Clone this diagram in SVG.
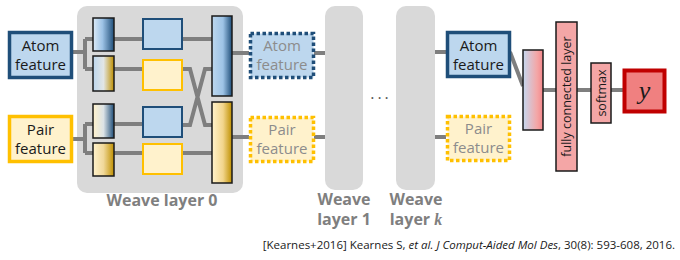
<svg xmlns="http://www.w3.org/2000/svg" width="680" height="260" viewBox="0 0 680 260">
<defs>
<linearGradient id="gBB" x1="0" x2="1" y1="0" y2="0"><stop offset="0" stop-color="#DDEBF7"/><stop offset="0.45" stop-color="#9DC3E6"/><stop offset="1" stop-color="#1F4E79"/></linearGradient>
<linearGradient id="gBY" x1="0" x2="1" y1="0" y2="0"><stop offset="0" stop-color="#BDD7EE"/><stop offset="0.5" stop-color="#E2E6E6"/><stop offset="1" stop-color="#BF9000"/></linearGradient>
<linearGradient id="gYB" x1="0" x2="1" y1="0" y2="0"><stop offset="0" stop-color="#FFF2CC"/><stop offset="0.5" stop-color="#DCE3E6"/><stop offset="1" stop-color="#1F4E79"/></linearGradient>
<linearGradient id="gYY" x1="0" x2="1" y1="0" y2="0"><stop offset="0" stop-color="#FFF2CC"/><stop offset="0.5" stop-color="#F0D89A"/><stop offset="1" stop-color="#BF9000"/></linearGradient>
<linearGradient id="gTB" x1="0" x2="1" y1="0" y2="0"><stop offset="0" stop-color="#BDD7EE"/><stop offset="0.55" stop-color="#9DC3E6"/><stop offset="1" stop-color="#1F4E79"/></linearGradient>
<linearGradient id="gTY" x1="0" x2="1" y1="0" y2="0"><stop offset="0" stop-color="#FFF2CC"/><stop offset="0.55" stop-color="#F2D58C"/><stop offset="1" stop-color="#BF9000"/></linearGradient>
<linearGradient id="gBR" x1="0" x2="1" y1="0" y2="0"><stop offset="0" stop-color="#C5D9F1"/><stop offset="0.7" stop-color="#F4A6A6"/><stop offset="1" stop-color="#F4868A"/></linearGradient>
</defs>
<style>
.lane{fill:#D9D9D9}
.ln{stroke:#7F7F7F;stroke-width:4;fill:none}
.bar{stroke:#1A1A1A;stroke-width:1.5}
.atom{fill:#BDD7EE;stroke:#1F4E79;stroke-width:3.5}
.pair{fill:#FFF2CC;stroke:#FFC000;stroke-width:3.5}
.ab{fill:#BDD7EE;stroke:#1F4E79;stroke-width:2}
.pb{fill:#FFF2CC;stroke:#FFC000;stroke-width:2}
.datom{fill:#BDD7EE;stroke:#1F4E79;stroke-width:3.5;stroke-dasharray:3.5 2.5}
.dpair{fill:#FFF2CC;stroke:#FFC000;stroke-width:3.5;stroke-dasharray:3.5 2.5}
.t{font-family:"Open Sans","Noto Sans",sans-serif;font-size:15px;text-anchor:middle;fill:#1A1A1A}
.tg{fill:#8C8C8C}
.lab{font-family:"Open Sans","Noto Sans",sans-serif;font-size:16px;font-weight:bold;text-anchor:middle;fill:#7F7F7F}
.red{fill:#F4A6A6;stroke:#1A1A1A;stroke-width:1.5}
.rt{font-family:"Open Sans","Noto Sans",sans-serif;font-size:12.5px;text-anchor:middle;fill:#1A1A1A}
</style>

<g id="lanes">
<rect class="lane" x="77" y="6" width="166" height="187" rx="10"/>
<rect class="lane" x="325" y="6" width="38" height="184" rx="10"/>
<rect class="lane" x="396" y="6" width="39" height="184" rx="10"/>
</g>

<g id="connectors">
<path class="ln" d="M72 52 H85 M85 39 V69 M85 39 H212 M85 69 H143"/>
<path class="ln" d="M72 139 H85 M85 124 V153 M85 124 H143 M85 153 H212"/>
<path class="ln" d="M182 69 H190 L205 125 H212 M182 125 H190 L205 69 H212"/>
<path class="ln" d="M232 53 H249 M314 53 H325 M435 52 H446"/>
<path class="ln" d="M232 137 H249 M314 137 H325 M435 137 H446"/>
<path class="ln" d="M510 52 L523 86 M543 90 H623"/>
</g>

<g id="atom-in"><rect class="atom" x="9.5" y="32.5" width="62" height="45"/><text class="t" x="40.5" y="51">Atom</text><text class="t" x="40.5" y="70">feature</text></g>
<g id="pair-in"><rect class="pair" x="9.5" y="116.5" width="62" height="45"/><text class="t" x="40.5" y="135">Pair</text><text class="t" x="40.5" y="154">feature</text></g>

<g id="weave0">
<rect class="bar" x="93" y="18" width="21" height="33" fill="url(#gBB)"/>
<rect class="bar" x="93" y="56" width="21" height="35" fill="url(#gBY)"/>
<rect class="bar" x="93" y="104" width="21" height="34" fill="url(#gYB)"/>
<rect class="bar" x="93" y="143" width="21" height="33" fill="url(#gYY)"/>
<rect class="ab" x="143" y="19" width="39" height="30"/>
<rect class="pb" x="143" y="60" width="39" height="30"/>
<rect class="ab" x="143" y="107" width="39" height="30"/>
<rect class="pb" x="143" y="144" width="39" height="30"/>
<rect class="bar" x="212" y="16" width="20" height="80" fill="url(#gTB)"/>
<rect class="bar" x="212" y="102" width="20" height="81" fill="url(#gTY)"/>
<text class="lab" x="162" y="206">Weave layer 0</text>
</g>

<g id="atom-mid"><rect class="datom" x="250.5" y="33.5" width="63" height="44"/><text class="t tg" x="282" y="51">Atom</text><text class="t tg" x="282" y="70">feature</text></g>
<g id="pair-mid"><rect class="dpair" x="250.5" y="117.5" width="63" height="44"/><text class="t tg" x="282" y="135">Pair</text><text class="t tg" x="282" y="154">feature</text></g>

<g id="weave1"><text class="lab" x="344" y="205">Weave</text><text class="lab" x="344" y="225">layer 1</text></g>
<g id="dots"><text x="381" y="104" font-family="'Open Sans',sans-serif" font-size="16" text-anchor="middle" fill="#595959" letter-spacing="3">···</text></g>
<g id="weavek"><text class="lab" x="416" y="205">Weave</text><text class="lab" x="416" y="225">layer <tspan font-family="'Liberation Serif',serif" font-style="italic">k</tspan></text></g>

<g id="atom-out"><rect class="atom" x="447.5" y="32.5" width="62" height="44"/><text class="t" x="478.5" y="51">Atom</text><text class="t" x="478.5" y="70">feature</text></g>
<g id="pair-out"><rect class="dpair" x="447.5" y="116.5" width="62" height="44"/><text class="t tg" x="478.5" y="134">Pair</text><text class="t tg" x="478.5" y="153">feature</text></g>

<g id="concat"><rect class="bar" x="523" y="50" width="20" height="80" fill="url(#gBR)"/></g>
<g id="fc"><rect class="red" x="556" y="22" width="21" height="149"/><text class="rt" transform="translate(571 96.5) rotate(-90)" x="0" y="0">fully connected layer</text></g>
<g id="softmax"><rect class="red" x="591" y="63" width="20" height="60"/><text class="rt" transform="translate(605.5 93) rotate(-90)" x="0" y="0">softmax</text></g>
<g id="y"><rect x="624.5" y="70.5" width="40" height="41" fill="#F08080" stroke="#C00000" stroke-width="4"/><text x="644.5" y="99" font-family="'Liberation Serif',serif" font-style="italic" font-size="26" text-anchor="middle" fill="#1A1A1A">y</text></g>

<g id="citation"><text x="675" y="249" font-family="'Open Sans','Noto Sans',sans-serif" font-size="11.5" text-anchor="end" fill="#1A1A1A">[Kearnes+2016] Kearnes S, <tspan font-style="italic">et al.</tspan> <tspan font-style="italic">J Comput-Aided Mol Des</tspan>, 30(8): 593-608, 2016.</text></g>
</svg>
